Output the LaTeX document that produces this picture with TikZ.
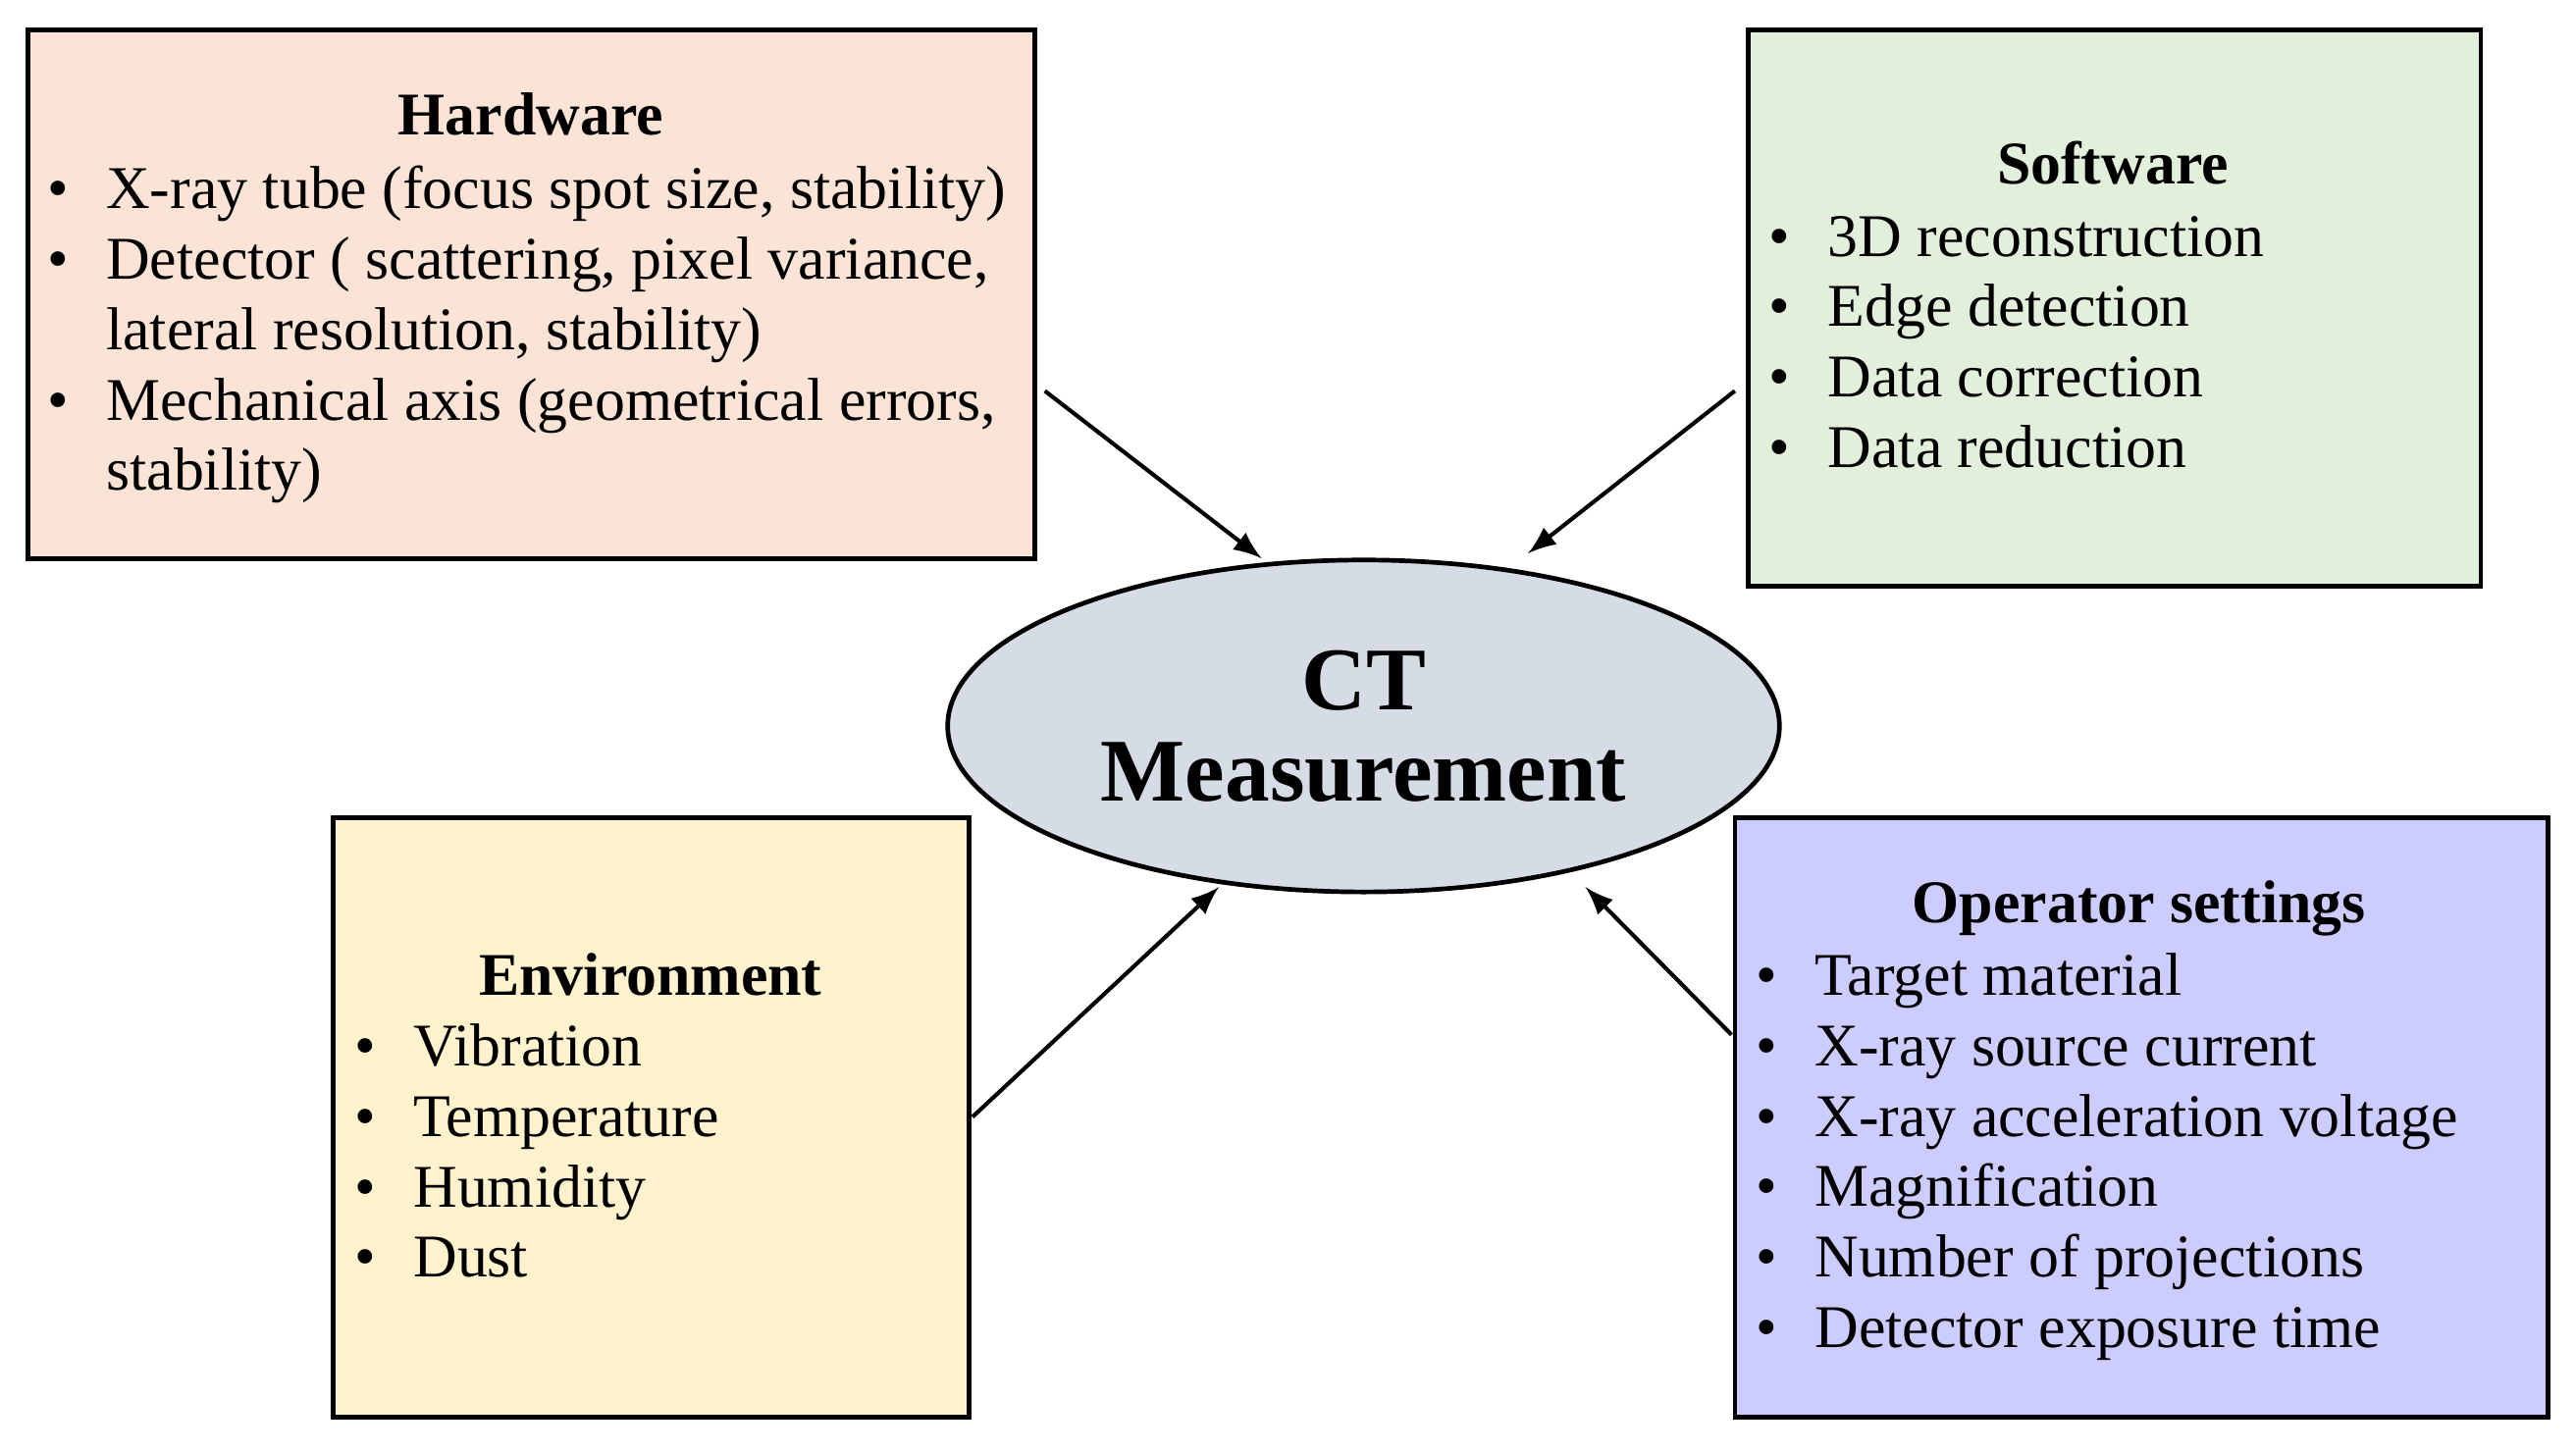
\documentclass[tikz,border=0pt]{standalone}
\usetikzlibrary{shapes.geometric}
\usepackage{fontspec}
\setmainfont{Liberation Serif}
\usepackage{array}
\definecolor{hw}{HTML}{FBE3D6}
\definecolor{sw}{HTML}{E2EFDA}
\definecolor{env}{HTML}{FFF2CC}
\definecolor{op}{HTML}{CCCCFF}
\definecolor{ct}{HTML}{D6DCE5}
\newcommand{\blist}[1]{\fontsize{10.5}{12.2}\selectfont\renewcommand\arraystretch{1.0}\begin{tabular}[t]{@{}p{0.36cm}@{}l@{}}#1\end{tabular}}
\begin{document}
\begin{tikzpicture}[x=0.01cm,y=-0.01cm,
  box/.style={draw=black,line width=0.8pt},
  ttl/.style={inner sep=0,anchor=base,font=\fontsize{10.5}{12.2}\selectfont\bfseries},
  lst/.style={inner sep=0,anchor=base west},
  arr/.style={-latex,line width=0.7pt}]
\useasboundingbox (0,0) rectangle (1568,884);
\draw[box,fill=hw] (17,18) rectangle (630,340);
\draw[box,fill=sw] (1064,18) rectangle (1510,357);
\draw[box,fill=env] (203,498) rectangle (590,863);
\draw[box,fill=op] (1056,498) rectangle (1551,863);
\node[draw=black,line width=0.8pt,fill=ct,ellipse,minimum width=5.06cm,minimum height=2.02cm,inner sep=0] (ct) at (830,442) {};
\node[inner sep=0,align=center,font=\fontsize{15.5}{15.8}\selectfont\bfseries] (ctt) at (830,442) {CT\\Measurement};
\node[ttl] (hwt) at (323,82) {Hardware};
\node[lst] (hwl) at (28,127) {\blist{\textbullet & X-ray tube (focus spot size, stability)\\ \textbullet & Detector ( scattering, pixel variance,\\ & lateral resolution, stability)\\ \textbullet & Mechanical axis (geometrical errors,\\ & stability)}};
\node[ttl] (swt) at (1286,112) {Software};
\node[lst] (swl) at (1076,156) {\blist{\textbullet & 3D reconstruction\\ \textbullet & Edge detection\\ \textbullet & Data correction\\ \textbullet & Data reduction}};
\node[ttl] (envt) at (396,606) {Environment};
\node[lst] (envl) at (215,649) {\blist{\textbullet & Vibration\\ \textbullet & Temperature\\ \textbullet & Humidity\\ \textbullet & Dust}};
\node[ttl] (opt) at (1302,562) {Operator settings};
\node[lst] (opl) at (1068,606) {\blist{\textbullet & Target material\\ \textbullet & X-ray source current\\ \textbullet & X-ray acceleration voltage\\ \textbullet & Magnification\\ \textbullet & Number of projections\\ \textbullet & Detector exposure time}};
\coordinate (a1) at (636,238); \coordinate (b1) at (768,340);
\coordinate (a2) at (1056,238); \coordinate (b2) at (930,337);
\coordinate (a3) at (592,680); \coordinate (b3) at (742,540);
\coordinate (a4) at (1054,630); \coordinate (b4) at (965,540);
\draw[arr] (a1) -- (b1);
\draw[arr] (a2) -- (b2);
\draw[arr] (a3) -- (b3);
\draw[arr] (a4) -- (b4);
\end{tikzpicture}
\end{document}
